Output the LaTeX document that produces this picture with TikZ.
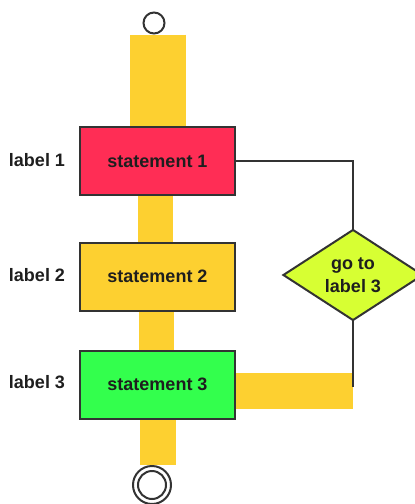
\documentclass[tikz,border=0pt]{standalone}
\usepackage{fontspec}
\setmainfont{Liberation Sans}
\usetikzlibrary{shapes.geometric,backgrounds}
\definecolor{stred}{HTML}{FF2D55}
\definecolor{styellow}{HTML}{FDD030}
\definecolor{stgreen}{HTML}{33FF4D}
\definecolor{stlime}{HTML}{D7FF33}
\definecolor{edge}{HTML}{333333}
\definecolor{ink}{HTML}{1E1E1E}

\begin{document}
\begin{tikzpicture}[x=1pt,y=-1pt,
		txt/.style={text=ink, font=\bfseries\fontsize{18}{23}\selectfont},
		stmt/.style={txt, draw=edge, line width=2pt, minimum width=155pt, minimum height=68pt, inner sep=0pt},
		test/.style={txt, diamond, draw=edge, line width=2pt, fill=stlime, minimum width=140pt, minimum height=79pt, inner sep=0pt, align=center},
		ring/.style={circle, draw=edge, line width=2pt, inner sep=0pt},
		bar/.style={styellow, line cap=butt},
		link/.style={draw=edge, line width=1.5pt}]
		\useasboundingbox (0,0) rectangle (415,504);
		\node[ring, minimum size=21pt] (start) at (154,23) {};
		\node[stmt, fill=stred] (stmt1) at (157.5,161) {statement 1};
		\node[stmt, fill=styellow] (stmt2) at (157.5,276.5) {statement 2};
		\node[stmt, fill=stgreen] (stmt3) at (157.5,384.5) {statement 3};
		\node[txt] (lbl1) at (37,160) {label 1};
		\node[txt] (lbl2) at (37,275) {label 2};
		\node[txt] (lbl3) at (37,382) {label 3};
		\node[test] (goto) at (353,275) {go to\\label 3};
		\node[ring, minimum size=38pt] (stop) at (152,485) {};
		\node[ring, minimum size=28pt] (stopin) at (stop) {};
		\coordinate (barend) at (353,391);
		% flow bars
		\begin{scope}[on background layer]
			\draw[bar, line width=56pt] (stmt1.north |- start.south) -- (stmt1.north);
			\draw[bar, line width=35pt] ([xshift=-2pt]stmt1.south) -- ([xshift=-2pt]stmt2.north);
			\draw[bar, line width=35pt] ([xshift=-1pt]stmt2.south) -- ([xshift=-1pt]stmt3.north);
			\draw[bar, line width=36pt] (stmt3.south) -- (stmt3.south |- stop.north);
			\draw[bar, line width=36pt] (stmt3.east |- barend) -- (barend);
		\end{scope}
		\draw[link] (stmt1.east) -| (goto.north);
		\draw[link] (goto.south) -- ([yshift=4pt]barend);
	\end{tikzpicture}
\end{document}
